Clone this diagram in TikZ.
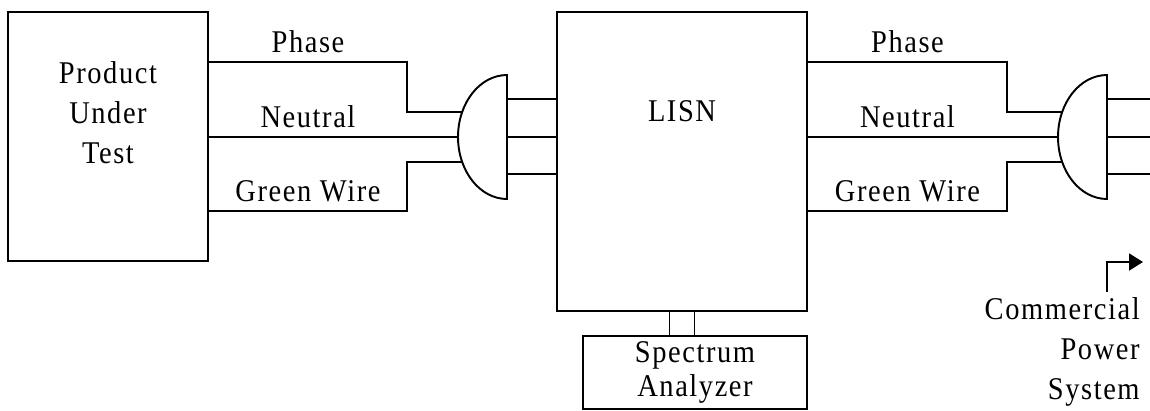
\documentclass[tikz,border=0pt]{standalone}
\usepackage{fontspec}
\setmainfont{Liberation Serif}[LetterSpace=5.0, FakeStretch=0.9]
\usepackage{tikz}
\usetikzlibrary{arrows.meta}

\tikzset{
  box/.style={draw, line width=1.1pt, inner sep=0pt},
  wire/.style={line width=1.1pt},
  lbl/.style={inner sep=0pt, font=\fontsize{18}{22.7}\selectfont},
  wlbl/.style={lbl, above=0.16cm},
}

\begin{document}
\begin{tikzpicture}[x=0.02cm, y=0.02cm]
        \useasboundingbox (0,0) rectangle (1150,410);
        % boxes
        \node[box, minimum width=4cm, minimum height=4.98cm] (put) at (108,273.5) {};
        \node[lbl, align=center, anchor=north] (puttext) at ([yshift=-1cm]put.north) {Product\\Under\\Test};
        \node[box, minimum width=5cm, minimum height=5.98cm] (lisn) at (682,248.5) {};
        \node[lbl] (lisntext) at (682,299) {LISN};
        \node[box, minimum width=4.48cm, minimum height=1.46cm] (sa) at (695,37.5) {};
        \node[lbl, align=center, font=\fontsize{18}{19.8}\selectfont] (satext) at (sa.center) {Spectrum\\Analyzer};
        % wire levels
        \coordinate (ph) at (0,348);
        \coordinate (ne) at (0,273);
        \coordinate (gw) at (0,199);
        \coordinate (phin) at (0,298);
        \coordinate (gwin) at (0,248);
        \coordinate (bendL) at (407,0);
        \coordinate (bendR) at (1007,0);
        \coordinate (plugL) at (507,273);
        \coordinate (plugR) at (1107,273);
        \coordinate (rim) at (1150,0);
        % left cord
        \draw[wire] (put.east |- ph) -- node[wlbl] {Phase} (bendL |- ph) |- (plugL |- phin);
        \draw[wire] (put.east |- ne) -- node[wlbl] {Neutral} (bendL |- ne) -- (plugL |- ne);
        \draw[wire] (put.east |- gw) -- node[wlbl] {Green Wire} (bendL |- gw) |- (plugL |- gwin);
        % right cord
        \draw[wire] (lisn.east |- ph) -- node[wlbl] {Phase} (bendR |- ph) |- (plugR |- phin);
        \draw[wire] (lisn.east |- ne) -- node[wlbl] {Neutral} (bendR |- ne) -- (plugR |- ne);
        \draw[wire] (lisn.east |- gw) -- node[wlbl] {Green Wire} (bendR |- gw) |- (plugR |- gwin);
        % plugs
        \foreach \plug in {plugL, plugR} {
          \draw[wire, fill=white] ([yshift=1.24cm]\plug) arc[start angle=90, end angle=270, x radius=0.98cm, y radius=1.24cm] -- cycle;
        }
        \foreach \dy in {38,0,-37} {
          \coordinate (p) at ([yshift=\dy*0.02cm]plugL);
          \draw[wire] (p) -- (p -| lisn.west);
          \coordinate (q) at ([yshift=\dy*0.02cm]plugR);
          \draw[wire] (q) -- (q -| rim);
        }
        % analyzer link
        \foreach \dx in {-12.5,12.5} {
          \coordinate (s) at ([xshift=\dx*0.02cm]lisn.south);
          \draw[wire] (s) -- (s |- sa.north);
        }
        % mains
        \node[lbl, align=right, anchor=north east] (cps) at (1140,113) {Commercial\\Power\\System};
        \coordinate (cpsfoot) at (1107,118);
        \coordinate (cpstip) at (1143,148);
        \draw[wire, -{Triangle[length=0.28cm, width=0.34cm]}] (cpsfoot) |- (cpstip);
\end{tikzpicture}
\end{document}
